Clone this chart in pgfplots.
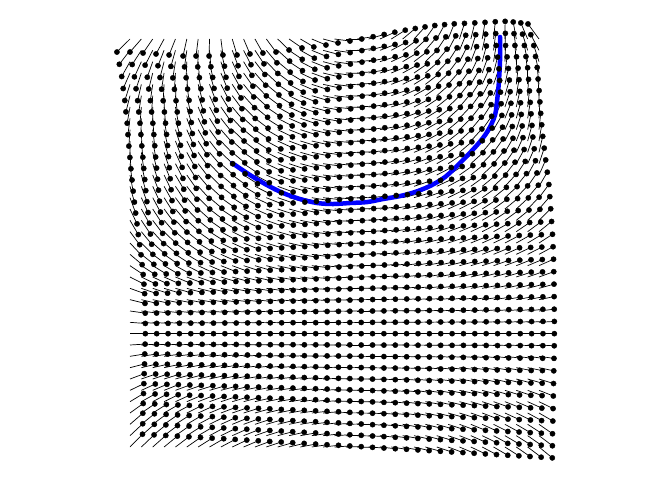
\documentclass[border=0pt]{standalone}
\usepackage{pgfplots}
\usepackage{pgfplotstable}
\pgfplotsset{compat=1.18}
\pgfplotstableread{
x y u v
0 0 -1.15 1.15
1 0 -1.00 1.15
2 0 -0.85 1.24
3 0 -0.71 1.32
4 0 -0.56 1.41
5 0 -0.33 1.50
6 0 -0.19 1.50
7 0 -0.04 1.50
8 0 0.18 1.41
9 0 0.42 1.41
10 0 0.56 1.32
11 0 0.70 1.24
12 0 0.85 1.15
13 0 1.00 0.97
14 0 1.14 0.79
15 0 1.18 0.70
16 0 1.25 0.53
17 0 1.31 0.35
18 0 1.36 0.18
19 0 1.40 0.00
20 0 1.40 -0.20
21 0 1.37 -0.40
22 0 1.31 -0.60
23 0 1.23 -0.78
24 0 1.11 -0.93
25 0 0.97 -1.07
26 0 0.83 -1.19
27 0 0.69 -1.27
28 0 0.54 -1.34
29 0 0.44 -1.38
30 0 0.35 -1.42
31 0 0.25 -1.47
32 0 0.15 -1.52
33 0 0.02 -1.56
34 0 -0.27 -1.50
35 0 -0.60 -1.42
36 0 -0.97 -1.33
0 1 -0.94 1.23
1 1 -0.81 1.25
2 1 -0.67 1.31
3 1 -0.54 1.36
4 1 -0.40 1.42
5 1 -0.20 1.46
6 1 -0.04 1.46
7 1 0.12 1.45
8 1 0.32 1.40
9 1 0.51 1.36
10 1 0.65 1.27
11 1 0.79 1.19
12 1 0.93 1.10
13 1 1.05 0.95
14 1 1.16 0.79
15 1 1.23 0.69
16 1 1.30 0.54
17 1 1.34 0.36
18 1 1.38 0.20
19 1 1.41 0.02
20 1 1.42 -0.17
21 1 1.38 -0.35
22 1 1.33 -0.52
23 1 1.26 -0.69
24 1 1.18 -0.84
25 1 1.05 -0.97
26 1 0.93 -1.09
27 1 0.80 -1.19
28 1 0.67 -1.28
29 1 0.55 -1.33
30 1 0.43 -1.38
31 1 0.31 -1.43
32 1 0.19 -1.48
33 1 0.04 -1.50
34 1 -0.20 -1.47
35 1 -0.45 -1.43
36 1 -0.72 -1.38
0 2 -0.73 1.31
1 2 -0.61 1.34
2 2 -0.48 1.37
3 2 -0.36 1.40
4 2 -0.23 1.43
5 2 -0.06 1.42
6 2 0.11 1.41
7 2 0.28 1.39
8 2 0.45 1.38
9 2 0.59 1.30
10 2 0.73 1.21
11 2 0.87 1.13
12 2 1.01 1.04
13 2 1.10 0.92
14 2 1.18 0.79
15 2 1.27 0.67
16 2 1.35 0.54
17 2 1.37 0.37
18 2 1.40 0.21
19 2 1.42 0.04
20 2 1.44 -0.13
21 2 1.39 -0.29
22 2 1.34 -0.44
23 2 1.29 -0.60
24 2 1.24 -0.75
25 2 1.13 -0.87
26 2 1.02 -0.99
27 2 0.90 -1.10
28 2 0.79 -1.22
29 2 0.65 -1.27
30 2 0.51 -1.33
31 2 0.37 -1.38
32 2 0.23 -1.43
33 2 0.06 -1.43
34 2 -0.12 -1.43
35 2 -0.29 -1.43
36 2 -0.46 -1.43
0 3 -0.60 1.37
1 3 -0.47 1.39
2 3 -0.35 1.41
3 3 -0.22 1.43
4 3 -0.09 1.44
5 3 0.07 1.42
6 3 0.24 1.39
7 3 0.40 1.36
8 3 0.56 1.34
9 3 0.68 1.25
10 3 0.81 1.16
11 3 0.94 1.08
12 3 1.06 0.99
13 3 1.14 0.87
14 3 1.22 0.74
15 3 1.29 0.62
16 3 1.37 0.50
17 3 1.39 0.34
18 3 1.41 0.20
19 3 1.43 0.04
20 3 1.45 -0.12
21 3 1.40 -0.27
22 3 1.36 -0.41
23 3 1.32 -0.56
24 3 1.27 -0.70
25 3 1.17 -0.81
26 3 1.08 -0.93
27 3 0.97 -1.04
28 3 0.87 -1.16
29 3 0.74 -1.22
30 3 0.61 -1.28
31 3 0.48 -1.34
32 3 0.35 -1.40
33 3 0.19 -1.42
34 3 0.02 -1.43
35 3 -0.15 -1.45
36 3 -0.31 -1.46
0 4 -0.46 1.43
1 4 -0.33 1.44
2 4 -0.21 1.44
3 4 -0.08 1.45
4 4 0.05 1.45
5 4 0.20 1.41
6 4 0.36 1.37
7 4 0.51 1.33
8 4 0.66 1.29
9 4 0.77 1.20
10 4 0.89 1.11
11 4 1.00 1.02
12 4 1.11 0.93
13 4 1.18 0.81
14 4 1.25 0.69
15 4 1.31 0.57
16 4 1.38 0.45
17 4 1.40 0.31
18 4 1.42 0.18
19 4 1.43 0.04
20 4 1.45 -0.10
21 4 1.41 -0.24
22 4 1.38 -0.37
23 4 1.34 -0.51
24 4 1.30 -0.64
25 4 1.21 -0.75
26 4 1.13 -0.87
27 4 1.04 -0.98
28 4 0.95 -1.09
29 4 0.83 -1.16
30 4 0.71 -1.23
31 4 0.59 -1.30
32 4 0.47 -1.37
33 4 0.31 -1.40
34 4 0.16 -1.43
35 4 0.00 -1.46
36 4 -0.16 -1.49
0 5 -0.36 1.43
1 5 -0.23 1.44
2 5 -0.10 1.44
3 5 0.03 1.44
4 5 0.16 1.44
5 5 0.30 1.39
6 5 0.46 1.34
7 5 0.60 1.29
8 5 0.75 1.24
9 5 0.85 1.15
10 5 0.96 1.06
11 5 1.06 0.97
12 5 1.16 0.88
13 5 1.22 0.76
14 5 1.28 0.65
15 5 1.33 0.54
16 5 1.39 0.42
17 5 1.41 0.29
18 5 1.43 0.17
19 5 1.44 0.04
20 5 1.45 -0.09
21 5 1.42 -0.22
22 5 1.39 -0.35
23 5 1.36 -0.48
24 5 1.32 -0.60
25 5 1.24 -0.71
26 5 1.16 -0.83
27 5 1.08 -0.94
28 5 1.00 -1.05
29 5 0.88 -1.13
30 5 0.77 -1.20
31 5 0.66 -1.27
32 5 0.54 -1.34
33 5 0.39 -1.38
34 5 0.24 -1.41
35 5 0.08 -1.44
36 5 -0.08 -1.47
0 6 -0.25 1.43
1 6 -0.12 1.43
2 6 0.01 1.43
3 6 0.13 1.43
4 6 0.26 1.43
5 6 0.40 1.37
6 6 0.55 1.31
7 6 0.69 1.25
8 6 0.83 1.19
9 6 0.92 1.10
10 6 1.02 1.01
11 6 1.11 0.91
12 6 1.20 0.82
13 6 1.25 0.71
14 6 1.30 0.61
15 6 1.35 0.50
16 6 1.40 0.39
17 6 1.41 0.27
18 6 1.43 0.16
19 6 1.44 0.04
20 6 1.45 -0.08
21 6 1.42 -0.20
22 6 1.40 -0.32
23 6 1.37 -0.44
24 6 1.34 -0.56
25 6 1.27 -0.67
26 6 1.19 -0.79
27 6 1.12 -0.90
28 6 1.04 -1.01
29 6 0.93 -1.09
30 6 0.83 -1.16
31 6 0.72 -1.24
32 6 0.61 -1.31
33 6 0.46 -1.35
34 6 0.31 -1.38
35 6 0.16 -1.42
36 6 0.01 -1.45
0 7 -0.18 1.44
1 7 -0.04 1.43
2 7 0.10 1.43
3 7 0.22 1.42
4 7 0.36 1.41
5 7 0.49 1.34
6 7 0.63 1.28
7 7 0.76 1.21
8 7 0.90 1.14
9 7 0.98 1.05
10 7 1.07 0.96
11 7 1.15 0.87
12 7 1.23 0.78
13 7 1.28 0.67
14 7 1.32 0.58
15 7 1.36 0.47
16 7 1.41 0.37
17 7 1.42 0.26
18 7 1.43 0.15
19 7 1.44 0.04
20 7 1.45 -0.07
21 7 1.43 -0.19
22 7 1.41 -0.30
23 7 1.38 -0.42
24 7 1.35 -0.53
25 7 1.29 -0.64
26 7 1.22 -0.76
27 7 1.15 -0.86
28 7 1.08 -0.97
29 7 0.98 -1.05
30 7 0.88 -1.13
31 7 0.78 -1.21
32 7 0.67 -1.29
33 7 0.53 -1.33
34 7 0.38 -1.37
35 7 0.23 -1.41
36 7 0.08 -1.45
0 8 -0.10 1.45
1 8 0.04 1.43
2 8 0.18 1.42
3 8 0.31 1.40
4 8 0.45 1.38
5 8 0.58 1.31
6 8 0.71 1.24
7 8 0.83 1.16
8 8 0.96 1.09
9 8 1.04 1.00
10 8 1.11 0.91
11 8 1.19 0.82
12 8 1.26 0.73
13 8 1.30 0.63
14 8 1.34 0.54
15 8 1.37 0.44
16 8 1.41 0.34
17 8 1.42 0.24
18 8 1.43 0.14
19 8 1.44 0.04
20 8 1.45 -0.06
21 8 1.43 -0.17
22 8 1.41 -0.28
23 8 1.38 -0.39
24 8 1.36 -0.50
25 8 1.30 -0.61
26 8 1.24 -0.72
27 8 1.17 -0.82
28 8 1.11 -0.93
29 8 1.02 -1.01
30 8 0.92 -1.10
31 8 0.83 -1.18
32 8 0.73 -1.26
33 8 0.59 -1.31
34 8 0.44 -1.35
35 8 0.30 -1.40
36 8 0.15 -1.44
0 9 -0.01 1.45
1 9 0.13 1.43
2 9 0.26 1.41
3 9 0.39 1.38
4 9 0.52 1.36
5 9 0.64 1.28
6 9 0.77 1.21
7 9 0.88 1.13
8 9 1.00 1.05
9 9 1.07 0.96
10 9 1.14 0.88
11 9 1.21 0.79
12 9 1.28 0.70
13 9 1.31 0.60
14 9 1.35 0.51
15 9 1.38 0.42
16 9 1.42 0.32
17 9 1.43 0.23
18 9 1.44 0.14
19 9 1.44 0.04
20 9 1.45 -0.06
21 9 1.43 -0.16
22 9 1.42 -0.27
23 9 1.39 -0.37
24 9 1.37 -0.47
25 9 1.32 -0.58
26 9 1.26 -0.69
27 9 1.20 -0.79
28 9 1.14 -0.89
29 9 1.06 -0.97
30 9 0.97 -1.06
31 9 0.88 -1.14
32 9 0.79 -1.22
33 9 0.65 -1.28
34 9 0.52 -1.33
35 9 0.38 -1.38
36 9 0.24 -1.43
0 10 0.08 1.45
1 10 0.21 1.42
2 10 0.34 1.39
3 10 0.46 1.36
4 10 0.59 1.33
5 10 0.70 1.25
6 10 0.82 1.17
7 10 0.93 1.09
8 10 1.04 1.01
9 10 1.10 0.92
10 10 1.17 0.84
11 10 1.23 0.75
12 10 1.29 0.66
13 10 1.32 0.57
14 10 1.36 0.48
15 10 1.39 0.39
16 10 1.42 0.30
17 10 1.43 0.21
18 10 1.44 0.13
19 10 1.44 0.04
20 10 1.45 -0.05
21 10 1.43 -0.15
22 10 1.42 -0.25
23 10 1.40 -0.34
24 10 1.38 -0.44
25 10 1.33 -0.54
26 10 1.28 -0.65
27 10 1.22 -0.75
28 10 1.17 -0.85
29 10 1.09 -0.93
30 10 1.01 -1.02
31 10 0.92 -1.10
32 10 0.84 -1.18
33 10 0.71 -1.24
34 10 0.59 -1.30
35 10 0.46 -1.35
36 10 0.33 -1.41
0 11 0.18 1.44
1 11 0.30 1.40
2 11 0.43 1.37
3 11 0.54 1.33
4 11 0.66 1.30
5 11 0.77 1.22
6 11 0.87 1.14
7 11 0.98 1.05
8 11 1.08 0.97
9 11 1.13 0.89
10 11 1.20 0.81
11 11 1.25 0.72
12 11 1.31 0.63
13 11 1.34 0.55
14 11 1.37 0.46
15 11 1.40 0.37
16 11 1.43 0.29
17 11 1.44 0.20
18 11 1.44 0.13
19 11 1.45 0.04
20 11 1.45 -0.05
21 11 1.44 -0.14
22 11 1.43 -0.24
23 11 1.41 -0.32
24 11 1.39 -0.42
25 11 1.35 -0.51
26 11 1.30 -0.61
27 11 1.25 -0.71
28 11 1.21 -0.80
29 11 1.14 -0.88
30 11 1.07 -0.97
31 11 0.99 -1.04
32 11 0.92 -1.12
33 11 0.80 -1.19
34 11 0.69 -1.25
35 11 0.58 -1.31
36 11 0.46 -1.37
0 12 0.28 1.42
1 12 0.39 1.38
2 12 0.51 1.34
3 12 0.62 1.30
4 12 0.73 1.26
5 12 0.83 1.18
6 12 0.92 1.10
7 12 1.02 1.01
8 12 1.11 0.93
9 12 1.16 0.85
10 12 1.22 0.77
11 12 1.27 0.68
12 12 1.32 0.60
13 12 1.35 0.52
14 12 1.38 0.44
15 12 1.40 0.35
16 12 1.43 0.27
17 12 1.44 0.19
18 12 1.44 0.12
19 12 1.45 0.04
20 12 1.45 -0.04
21 12 1.44 -0.13
22 12 1.43 -0.22
23 12 1.41 -0.30
24 12 1.40 -0.39
25 12 1.36 -0.48
26 12 1.32 -0.57
27 12 1.28 -0.66
28 12 1.24 -0.75
29 12 1.18 -0.83
30 12 1.12 -0.91
31 12 1.05 -0.98
32 12 0.99 -1.06
33 12 0.89 -1.13
34 12 0.79 -1.20
35 12 0.69 -1.26
36 12 0.59 -1.33
0 13 0.39 1.39
1 13 0.49 1.35
2 13 0.60 1.31
3 13 0.70 1.26
4 13 0.80 1.22
5 13 0.89 1.14
6 13 0.97 1.06
7 13 1.06 0.97
8 13 1.14 0.89
9 13 1.19 0.81
10 13 1.24 0.74
11 13 1.29 0.65
12 13 1.33 0.57
13 13 1.36 0.50
14 13 1.39 0.42
15 13 1.41 0.34
16 13 1.43 0.26
17 13 1.44 0.18
18 13 1.44 0.11
19 13 1.45 0.04
20 13 1.45 -0.04
21 13 1.44 -0.13
22 13 1.43 -0.21
23 13 1.42 -0.29
24 13 1.41 -0.37
25 13 1.37 -0.45
26 13 1.34 -0.53
27 13 1.31 -0.62
28 13 1.27 -0.70
29 13 1.22 -0.77
30 13 1.17 -0.85
31 13 1.11 -0.91
32 13 1.06 -0.99
33 13 0.98 -1.05
34 13 0.90 -1.12
35 13 0.82 -1.18
36 13 0.73 -1.25
0 14 0.50 1.36
1 14 0.59 1.31
2 14 0.68 1.27
3 14 0.77 1.22
4 14 0.86 1.17
5 14 0.94 1.09
6 14 1.02 1.01
7 14 1.09 0.93
8 14 1.17 0.85
9 14 1.21 0.77
10 14 1.26 0.70
11 14 1.30 0.62
12 14 1.34 0.54
13 14 1.36 0.47
14 14 1.39 0.39
15 14 1.41 0.32
16 14 1.43 0.24
17 14 1.44 0.17
18 14 1.44 0.10
19 14 1.45 0.03
20 14 1.45 -0.04
21 14 1.44 -0.12
22 14 1.43 -0.19
23 14 1.42 -0.27
24 14 1.41 -0.34
25 14 1.38 -0.42
26 14 1.36 -0.49
27 14 1.33 -0.57
28 14 1.30 -0.64
29 14 1.26 -0.71
30 14 1.22 -0.78
31 14 1.17 -0.84
32 14 1.13 -0.91
33 14 1.07 -0.97
34 14 1.00 -1.04
35 14 0.94 -1.10
36 14 0.87 -1.16
0 15 0.62 1.31
1 15 0.70 1.26
2 15 0.78 1.21
3 15 0.86 1.16
4 15 0.94 1.11
5 15 1.01 1.03
6 15 1.07 0.96
7 15 1.14 0.88
8 15 1.20 0.81
9 15 1.24 0.73
10 15 1.28 0.67
11 15 1.32 0.59
12 15 1.35 0.52
13 15 1.37 0.45
14 15 1.40 0.38
15 15 1.41 0.31
16 15 1.43 0.23
17 15 1.44 0.17
18 15 1.44 0.10
19 15 1.45 0.03
20 15 1.45 -0.04
21 15 1.44 -0.11
22 15 1.44 -0.18
23 15 1.43 -0.25
24 15 1.42 -0.32
25 15 1.39 -0.40
26 15 1.37 -0.46
27 15 1.35 -0.54
28 15 1.32 -0.60
29 15 1.29 -0.67
30 15 1.25 -0.73
31 15 1.21 -0.79
32 15 1.17 -0.86
33 15 1.12 -0.92
34 15 1.06 -0.98
35 15 1.01 -1.04
36 15 0.95 -1.09
0 16 0.73 1.26
1 16 0.80 1.21
2 16 0.87 1.15
3 16 0.94 1.10
4 16 1.01 1.04
5 16 1.07 0.97
6 16 1.12 0.90
7 16 1.18 0.83
8 16 1.23 0.76
9 16 1.26 0.69
10 16 1.30 0.63
11 16 1.33 0.56
12 16 1.36 0.49
13 16 1.38 0.42
14 16 1.40 0.36
15 16 1.41 0.29
16 16 1.43 0.22
17 16 1.44 0.16
18 16 1.44 0.10
19 16 1.45 0.03
20 16 1.45 -0.03
21 16 1.44 -0.10
22 16 1.44 -0.17
23 16 1.43 -0.23
24 16 1.42 -0.30
25 16 1.40 -0.37
26 16 1.38 -0.43
27 16 1.36 -0.50
28 16 1.34 -0.56
29 16 1.31 -0.62
30 16 1.28 -0.68
31 16 1.24 -0.74
32 16 1.21 -0.80
33 16 1.17 -0.86
34 16 1.12 -0.91
35 16 1.08 -0.97
36 16 1.03 -1.02
0 17 0.85 1.15
1 17 0.91 1.11
2 17 0.96 1.05
3 17 1.02 1.01
4 17 1.07 0.95
5 17 1.12 0.89
6 17 1.16 0.83
7 17 1.21 0.77
8 17 1.25 0.70
9 17 1.28 0.64
10 17 1.31 0.59
11 17 1.33 0.52
12 17 1.36 0.46
13 17 1.38 0.40
14 17 1.39 0.34
15 17 1.41 0.28
16 17 1.42 0.21
17 17 1.43 0.15
18 17 1.43 0.10
19 17 1.44 0.03
20 17 1.44 -0.03
21 17 1.43 -0.10
22 17 1.43 -0.16
23 17 1.42 -0.22
24 17 1.41 -0.28
25 17 1.40 -0.34
26 17 1.38 -0.39
27 17 1.36 -0.45
28 17 1.35 -0.51
29 17 1.32 -0.56
30 17 1.30 -0.61
31 17 1.27 -0.66
32 17 1.25 -0.71
33 17 1.22 -0.76
34 17 1.18 -0.81
35 17 1.15 -0.85
36 17 1.11 -0.90
0 18 0.97 1.04
1 18 1.01 1.00
2 18 1.05 0.95
3 18 1.09 0.91
4 18 1.13 0.86
5 18 1.17 0.81
6 18 1.20 0.75
7 18 1.24 0.70
8 18 1.27 0.64
9 18 1.29 0.59
10 18 1.31 0.54
11 18 1.33 0.48
12 18 1.35 0.43
13 18 1.37 0.37
14 18 1.38 0.32
15 18 1.40 0.26
16 18 1.41 0.20
17 18 1.41 0.14
18 18 1.42 0.09
19 18 1.42 0.03
20 18 1.42 -0.03
21 18 1.42 -0.09
22 18 1.41 -0.14
23 18 1.41 -0.20
24 18 1.40 -0.25
25 18 1.39 -0.30
26 18 1.38 -0.35
27 18 1.36 -0.40
28 18 1.35 -0.45
29 18 1.33 -0.49
30 18 1.32 -0.54
31 18 1.30 -0.58
32 18 1.28 -0.62
33 18 1.26 -0.66
34 18 1.24 -0.70
35 18 1.21 -0.73
36 18 1.19 -0.77
0 19 1.07 0.91
1 19 1.10 0.88
2 19 1.12 0.84
3 19 1.15 0.81
4 19 1.18 0.77
5 19 1.21 0.73
6 19 1.23 0.68
7 19 1.26 0.63
8 19 1.29 0.58
9 19 1.30 0.54
10 19 1.32 0.49
11 19 1.34 0.44
12 19 1.35 0.40
13 19 1.37 0.34
14 19 1.38 0.30
15 19 1.39 0.24
16 19 1.40 0.19
17 19 1.40 0.13
18 19 1.41 0.09
19 19 1.41 0.03
20 19 1.41 -0.03
21 19 1.41 -0.08
22 19 1.41 -0.13
23 19 1.40 -0.18
24 19 1.40 -0.22
25 19 1.39 -0.27
26 19 1.38 -0.31
27 19 1.37 -0.35
28 19 1.36 -0.40
29 19 1.34 -0.43
30 19 1.33 -0.47
31 19 1.32 -0.51
32 19 1.30 -0.54
33 19 1.29 -0.58
34 19 1.27 -0.61
35 19 1.25 -0.64
36 19 1.24 -0.67
0 20 1.16 0.78
1 20 1.18 0.76
2 20 1.19 0.73
3 20 1.21 0.71
4 20 1.22 0.68
5 20 1.24 0.64
6 20 1.26 0.60
7 20 1.28 0.56
8 20 1.30 0.52
9 20 1.31 0.48
10 20 1.33 0.44
11 20 1.34 0.40
12 20 1.35 0.36
13 20 1.36 0.31
14 20 1.37 0.27
15 20 1.38 0.22
16 20 1.39 0.17
17 20 1.39 0.12
18 20 1.40 0.08
19 20 1.40 0.03
20 20 1.40 -0.02
21 20 1.40 -0.06
22 20 1.40 -0.11
23 20 1.39 -0.15
24 20 1.39 -0.19
25 20 1.38 -0.23
26 20 1.38 -0.27
27 20 1.37 -0.30
28 20 1.36 -0.34
29 20 1.35 -0.37
30 20 1.34 -0.40
31 20 1.33 -0.43
32 20 1.32 -0.46
33 20 1.31 -0.49
34 20 1.30 -0.52
35 20 1.29 -0.54
36 20 1.28 -0.57
0 21 1.23 0.63
1 21 1.24 0.61
2 21 1.25 0.58
3 21 1.26 0.56
4 21 1.27 0.53
5 21 1.29 0.50
6 21 1.30 0.47
7 21 1.31 0.44
8 21 1.32 0.40
9 21 1.33 0.37
10 21 1.34 0.34
11 21 1.35 0.31
12 21 1.36 0.28
13 21 1.36 0.24
14 21 1.37 0.21
15 21 1.38 0.17
16 21 1.38 0.14
17 21 1.38 0.10
18 21 1.39 0.07
19 21 1.39 0.03
20 21 1.39 -0.02
21 21 1.39 -0.05
22 21 1.39 -0.09
23 21 1.38 -0.12
24 21 1.38 -0.15
25 21 1.38 -0.18
26 21 1.37 -0.22
27 21 1.37 -0.24
28 21 1.36 -0.27
29 21 1.35 -0.30
30 21 1.35 -0.32
31 21 1.34 -0.35
32 21 1.33 -0.37
33 21 1.33 -0.40
34 21 1.32 -0.43
35 21 1.31 -0.45
36 21 1.30 -0.47
0 22 1.29 0.47
1 22 1.30 0.45
2 22 1.31 0.43
3 22 1.31 0.40
4 22 1.32 0.38
5 22 1.33 0.36
6 22 1.33 0.33
7 22 1.34 0.31
8 22 1.34 0.28
9 22 1.35 0.26
10 22 1.35 0.24
11 22 1.36 0.21
12 22 1.36 0.19
13 22 1.36 0.17
14 22 1.37 0.15
15 22 1.37 0.12
16 22 1.37 0.10
17 22 1.37 0.07
18 22 1.37 0.05
19 22 1.37 0.02
20 22 1.37 -0.01
21 22 1.37 -0.04
22 22 1.37 -0.06
23 22 1.37 -0.09
24 22 1.37 -0.11
25 22 1.37 -0.13
26 22 1.36 -0.16
27 22 1.36 -0.18
28 22 1.35 -0.20
29 22 1.35 -0.22
30 22 1.35 -0.24
31 22 1.34 -0.26
32 22 1.34 -0.28
33 22 1.34 -0.30
34 22 1.33 -0.33
35 22 1.33 -0.35
36 22 1.32 -0.37
0 23 1.32 0.33
1 23 1.32 0.32
2 23 1.33 0.30
3 23 1.33 0.28
4 23 1.33 0.26
5 23 1.34 0.25
6 23 1.34 0.23
7 23 1.34 0.22
8 23 1.35 0.20
9 23 1.35 0.18
10 23 1.35 0.17
11 23 1.36 0.15
12 23 1.36 0.13
13 23 1.36 0.12
14 23 1.36 0.11
15 23 1.36 0.09
16 23 1.36 0.07
17 23 1.36 0.05
18 23 1.36 0.04
19 23 1.36 0.02
20 23 1.36 -0.01
21 23 1.36 -0.03
22 23 1.36 -0.04
23 23 1.36 -0.06
24 23 1.36 -0.08
25 23 1.36 -0.09
26 23 1.36 -0.11
27 23 1.36 -0.12
28 23 1.35 -0.14
29 23 1.35 -0.15
30 23 1.35 -0.17
31 23 1.34 -0.19
32 23 1.34 -0.20
33 23 1.34 -0.22
34 23 1.34 -0.24
35 23 1.34 -0.25
36 23 1.33 -0.27
0 24 1.34 0.19
1 24 1.34 0.18
2 24 1.34 0.17
3 24 1.34 0.15
4 24 1.34 0.14
5 24 1.34 0.13
6 24 1.34 0.13
7 24 1.34 0.12
8 24 1.35 0.11
9 24 1.35 0.10
10 24 1.35 0.09
11 24 1.35 0.08
12 24 1.35 0.07
13 24 1.35 0.06
14 24 1.35 0.06
15 24 1.35 0.05
16 24 1.35 0.04
17 24 1.35 0.03
18 24 1.35 0.02
19 24 1.35 0.01
20 24 1.35 0.00
21 24 1.35 -0.01
22 24 1.35 -0.02
23 24 1.35 -0.03
24 24 1.35 -0.04
25 24 1.35 -0.05
26 24 1.35 -0.06
27 24 1.35 -0.06
28 24 1.35 -0.07
29 24 1.35 -0.08
30 24 1.35 -0.10
31 24 1.35 -0.11
32 24 1.34 -0.12
33 24 1.34 -0.13
34 24 1.34 -0.14
35 24 1.34 -0.15
36 24 1.34 -0.16
0 25 1.35 0.10
1 25 1.35 0.09
2 25 1.35 0.09
3 25 1.35 0.08
4 25 1.35 0.07
5 25 1.35 0.07
6 25 1.35 0.07
7 25 1.35 0.06
8 25 1.35 0.06
9 25 1.35 0.05
10 25 1.35 0.05
11 25 1.35 0.04
12 25 1.35 0.04
13 25 1.35 0.03
14 25 1.35 0.03
15 25 1.35 0.03
16 25 1.35 0.02
17 25 1.35 0.02
18 25 1.35 0.01
19 25 1.35 0.01
20 25 1.35 0.00
21 25 1.35 -0.01
22 25 1.35 -0.01
23 25 1.35 -0.02
24 25 1.35 -0.02
25 25 1.35 -0.03
26 25 1.35 -0.03
27 25 1.35 -0.03
28 25 1.35 -0.04
29 25 1.35 -0.04
30 25 1.35 -0.05
31 25 1.35 -0.06
32 25 1.35 -0.06
33 25 1.35 -0.07
34 25 1.35 -0.07
35 25 1.35 -0.08
36 25 1.35 -0.08
0 26 1.35 0
1 26 1.35 0
2 26 1.35 0
3 26 1.35 0
4 26 1.35 0
5 26 1.35 0
6 26 1.35 0
7 26 1.35 0
8 26 1.35 0
9 26 1.35 0
10 26 1.35 0
11 26 1.35 0
12 26 1.35 0
13 26 1.35 0
14 26 1.35 0
15 26 1.35 0
16 26 1.35 0
17 26 1.35 0
18 26 1.35 0
19 26 1.35 0
20 26 1.35 0
21 26 1.35 0
22 26 1.35 0
23 26 1.35 0
24 26 1.35 0
25 26 1.35 0
26 26 1.35 0
27 26 1.35 0
28 26 1.35 0
29 26 1.35 0
30 26 1.35 0
31 26 1.35 0
32 26 1.35 0
33 26 1.35 0
34 26 1.35 0
35 26 1.35 0
36 26 1.35 0
0 27 1.33 -0.08
1 27 1.34 -0.07
2 27 1.34 -0.07
3 27 1.34 -0.07
4 27 1.34 -0.06
5 27 1.35 -0.06
6 27 1.35 -0.05
7 27 1.35 -0.05
8 27 1.35 -0.05
9 27 1.35 -0.04
10 27 1.35 -0.04
11 27 1.35 -0.03
12 27 1.35 -0.03
13 27 1.35 -0.03
14 27 1.35 -0.02
15 27 1.35 -0.02
16 27 1.35 -0.01
17 27 1.35 -0.01
18 27 1.35 -0.01
19 27 1.35 0.00
20 27 1.35 0.00
21 27 1.35 0.01
22 27 1.35 0.01
23 27 1.35 0.01
24 27 1.35 0.02
25 27 1.35 0.02
26 27 1.35 0.03
27 27 1.35 0.03
28 27 1.35 0.03
29 27 1.35 0.04
30 27 1.35 0.04
31 27 1.35 0.05
32 27 1.35 0.05
33 27 1.35 0.05
34 27 1.34 0.06
35 27 1.34 0.06
36 27 1.34 0.07
0 28 1.30 -0.21
1 28 1.31 -0.20
2 28 1.31 -0.19
3 28 1.32 -0.18
4 28 1.32 -0.17
5 28 1.32 -0.16
6 28 1.33 -0.15
7 28 1.33 -0.14
8 28 1.33 -0.13
9 28 1.34 -0.12
10 28 1.34 -0.10
11 28 1.34 -0.09
12 28 1.34 -0.08
13 28 1.35 -0.07
14 28 1.35 -0.06
15 28 1.35 -0.05
16 28 1.35 -0.04
17 28 1.35 -0.03
18 28 1.35 -0.02
19 28 1.35 -0.01
20 28 1.35 0.01
21 28 1.35 0.02
22 28 1.35 0.03
23 28 1.35 0.04
24 28 1.35 0.05
25 28 1.35 0.06
26 28 1.34 0.07
27 28 1.34 0.08
28 28 1.34 0.09
29 28 1.34 0.10
30 28 1.34 0.12
31 28 1.33 0.13
32 28 1.33 0.14
33 28 1.33 0.15
34 28 1.32 0.16
35 28 1.32 0.17
36 28 1.32 0.18
0 29 1.28 -0.33
1 29 1.28 -0.31
2 29 1.29 -0.30
3 29 1.30 -0.28
4 29 1.30 -0.26
5 29 1.31 -0.25
6 29 1.31 -0.23
7 29 1.32 -0.21
8 29 1.32 -0.20
9 29 1.33 -0.18
10 29 1.33 -0.16
11 29 1.34 -0.14
12 29 1.34 -0.13
13 29 1.35 -0.11
14 29 1.35 -0.09
15 29 1.35 -0.08
16 29 1.35 -0.06
17 29 1.35 -0.04
18 29 1.35 -0.03
19 29 1.35 -0.01
20 29 1.35 0.01
21 29 1.35 0.03
22 29 1.35 0.04
23 29 1.35 0.06
24 29 1.35 0.08
25 29 1.35 0.09
26 29 1.35 0.11
27 29 1.35 0.13
28 29 1.34 0.14
29 29 1.33 0.16
30 29 1.33 0.18
31 29 1.32 0.20
32 29 1.32 0.21
33 29 1.31 0.23
34 29 1.31 0.25
35 29 1.30 0.26
36 29 1.30 0.28
0 30 1.25 -0.47
1 30 1.26 -0.44
2 30 1.27 -0.42
3 30 1.28 -0.40
4 30 1.28 -0.37
5 30 1.29 -0.35
6 30 1.30 -0.32
7 30 1.31 -0.30
8 30 1.31 -0.28
9 30 1.32 -0.25
10 30 1.33 -0.23
11 30 1.33 -0.20
12 30 1.33 -0.18
13 30 1.34 -0.16
14 30 1.34 -0.13
15 30 1.34 -0.11
16 30 1.34 -0.08
17 30 1.35 -0.06
18 30 1.35 -0.04
19 30 1.35 -0.01
20 30 1.35 0.01
21 30 1.35 0.04
22 30 1.35 0.06
23 30 1.35 0.08
24 30 1.34 0.11
25 30 1.34 0.13
26 30 1.34 0.16
27 30 1.33 0.18
28 30 1.33 0.20
29 30 1.33 0.23
30 30 1.32 0.25
31 30 1.31 0.28
32 30 1.31 0.30
33 30 1.30 0.32
34 30 1.29 0.35
35 30 1.28 0.37
36 30 1.28 0.40
0 31 1.22 -0.59
1 31 1.23 -0.56
2 31 1.25 -0.53
3 31 1.26 -0.50
4 31 1.27 -0.47
5 31 1.28 -0.44
6 31 1.29 -0.41
7 31 1.30 -0.38
8 31 1.30 -0.35
9 31 1.31 -0.32
10 31 1.32 -0.29
11 31 1.33 -0.26
12 31 1.33 -0.23
13 31 1.34 -0.20
14 31 1.34 -0.17
15 31 1.34 -0.14
16 31 1.35 -0.11
17 31 1.35 -0.08
18 31 1.35 -0.05
19 31 1.35 -0.02
20 31 1.35 0.02
21 31 1.35 0.05
22 31 1.35 0.08
23 31 1.35 0.11
24 31 1.34 0.14
25 31 1.34 0.17
26 31 1.34 0.20
27 31 1.33 0.23
28 31 1.33 0.26
29 31 1.32 0.29
30 31 1.31 0.32
31 31 1.30 0.35
32 31 1.30 0.38
33 31 1.29 0.41
34 31 1.28 0.44
35 31 1.27 0.47
36 31 1.26 0.50
0 32 1.19 -0.72
1 32 1.21 -0.68
2 32 1.22 -0.65
3 32 1.24 -0.61
4 32 1.25 -0.57
5 32 1.26 -0.54
6 32 1.27 -0.50
7 32 1.28 -0.46
8 32 1.29 -0.43
9 32 1.30 -0.39
10 32 1.31 -0.35
11 32 1.32 -0.31
12 32 1.33 -0.28
13 32 1.33 -0.24
14 32 1.34 -0.20
15 32 1.34 -0.17
16 32 1.35 -0.13
17 32 1.35 -0.09
18 32 1.35 -0.06
19 32 1.35 -0.02
20 32 1.35 0.02
21 32 1.35 0.06
22 32 1.35 0.09
23 32 1.35 0.13
24 32 1.34 0.17
25 32 1.34 0.20
26 32 1.33 0.24
27 32 1.33 0.28
28 32 1.32 0.31
29 32 1.31 0.35
30 32 1.30 0.39
31 32 1.29 0.43
32 32 1.28 0.46
33 32 1.27 0.50
34 32 1.26 0.54
35 32 1.25 0.57
36 32 1.24 0.61
0 33 1.16 -0.84
1 33 1.18 -0.80
2 33 1.20 -0.75
3 33 1.22 -0.71
4 33 1.23 -0.67
5 33 1.25 -0.62
6 33 1.26 -0.58
7 33 1.27 -0.54
8 33 1.29 -0.49
9 33 1.30 -0.45
10 33 1.31 -0.41
11 33 1.31 -0.37
12 33 1.32 -0.32
13 33 1.33 -0.28
14 33 1.34 -0.24
15 33 1.34 -0.19
16 33 1.34 -0.15
17 33 1.35 -0.11
18 33 1.35 -0.06
19 33 1.35 -0.02
20 33 1.35 0.02
21 33 1.35 0.06
22 33 1.35 0.11
23 33 1.34 0.15
24 33 1.34 0.19
25 33 1.34 0.24
26 33 1.33 0.28
27 33 1.32 0.32
28 33 1.31 0.37
29 33 1.31 0.41
30 33 1.30 0.45
31 33 1.29 0.49
32 33 1.27 0.54
33 33 1.26 0.58
34 33 1.25 0.62
35 33 1.23 0.67
36 33 1.22 0.71
0 34 1.13 -0.98
1 34 1.15 -0.93
2 34 1.18 -0.88
3 34 1.19 -0.83
4 34 1.21 -0.78
5 34 1.23 -0.73
6 34 1.25 -0.68
7 34 1.26 -0.63
8 34 1.27 -0.58
9 34 1.29 -0.53
10 34 1.30 -0.48
11 34 1.31 -0.43
12 34 1.32 -0.38
13 34 1.33 -0.33
14 34 1.33 -0.28
15 34 1.34 -0.23
16 34 1.34 -0.18
17 34 1.35 -0.13
18 34 1.35 -0.08
19 34 1.35 -0.03
20 34 1.35 0.03
21 34 1.35 0.08
22 34 1.35 0.13
23 34 1.34 0.18
24 34 1.34 0.23
25 34 1.33 0.28
26 34 1.33 0.33
27 34 1.32 0.38
28 34 1.31 0.43
29 34 1.30 0.48
30 34 1.29 0.53
31 34 1.27 0.58
32 34 1.26 0.63
33 34 1.25 0.68
34 34 1.23 0.73
35 34 1.21 0.78
36 34 1.19 0.83
0 35 1.12 -1.05
1 35 1.14 -1.00
2 35 1.16 -0.95
3 35 1.18 -0.89
4 35 1.20 -0.84
5 35 1.22 -0.78
6 35 1.24 -0.73
7 35 1.25 -0.68
8 35 1.27 -0.62
9 35 1.28 -0.57
10 35 1.29 -0.51
11 35 1.31 -0.46
12 35 1.32 -0.41
13 35 1.32 -0.35
14 35 1.33 -0.30
15 35 1.34 -0.24
16 35 1.34 -0.19
17 35 1.35 -0.14
18 35 1.35 -0.08
19 35 1.35 -0.03
20 35 1.35 0.03
21 35 1.35 0.08
22 35 1.35 0.14
23 35 1.34 0.19
24 35 1.34 0.24
25 35 1.33 0.30
26 35 1.32 0.35
27 35 1.32 0.41
28 35 1.31 0.46
29 35 1.29 0.51
30 35 1.28 0.57
31 35 1.27 0.62
32 35 1.25 0.68
33 35 1.24 0.73
34 35 1.22 0.78
35 35 1.20 0.84
36 35 1.18 0.89
0 36 1.10 -1.13
1 36 1.12 -1.07
2 36 1.15 -1.02
3 36 1.17 -0.96
4 36 1.19 -0.90
5 36 1.21 -0.84
6 36 1.23 -0.78
7 36 1.25 -0.73
8 36 1.26 -0.67
9 36 1.28 -0.61
10 36 1.29 -0.55
11 36 1.30 -0.49
12 36 1.31 -0.44
13 36 1.32 -0.38
14 36 1.33 -0.32
15 36 1.34 -0.26
16 36 1.34 -0.20
17 36 1.35 -0.15
18 36 1.35 -0.09
19 36 1.35 -0.03
20 36 1.35 0.03
21 36 1.35 0.09
22 36 1.35 0.15
23 36 1.34 0.20
24 36 1.34 0.26
25 36 1.33 0.32
26 36 1.32 0.38
27 36 1.31 0.44
28 36 1.30 0.49
29 36 1.29 0.55
30 36 1.28 0.61
31 36 1.26 0.67
32 36 1.25 0.73
33 36 1.23 0.78
34 36 1.21 0.84
35 36 1.19 0.90
36 36 1.17 0.96
}\field
\begin{document}
\begin{tikzpicture}
\fill[white] (0,0) rectangle (672bp,480bp);
\useasboundingbox (0,0) rectangle (672bp,480bp);
\begin{axis}[
  at={(130bp,441bp)}, anchor=north west,
  scale only axis, width=409bp, height=408bp,
  xmin=0, xmax=36, ymin=0, ymax=36,
  y dir=reverse,
  axis lines=none, clip=false,
]
\addplot[black, line width=0.7bp, quiver={u=\thisrow{u}, v=\thisrow{v}}] table[x=x, y=y] {\field};
\addplot[black, only marks, mark=*, mark size=2.6bp] table[x expr=\thisrow{x}+\thisrow{u}, y expr=\thisrow{y}+\thisrow{v}] {\field};
\addplot[blue, line width=4.5bp, line cap=round, smooth] coordinates {
(8.98,10.94) (10.56,12.00) (12.06,12.89) (13.47,13.59) (14.96,14.12) (16.46,14.47) (17.87,14.56) (19.37,14.47) (20.86,14.39) (22.27,14.12) (23.77,13.86) (25.09,13.50) (26.41,12.97) (27.73,12.18) (29.05,10.94) (30.55,9.36) (31.43,8.21) (32.13,6.71) (32.39,4.68) (32.48,3.62) (32.57,1.85) (32.57,-0.18)
};
\end{axis}
\end{tikzpicture}
\end{document}
